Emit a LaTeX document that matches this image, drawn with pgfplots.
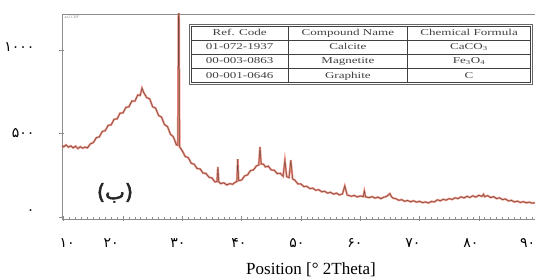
\documentclass[border=0pt]{standalone}
\usepackage{fontspec}
\usepackage{graphicx}
\setmainfont{Liberation Serif}
\newfontfamily\persianfont[Script=Arabic]{DejaVu Sans}
\newfontfamily\persianbold[Script=Arabic,FakeBold=2.5]{DejaVu Sans}
\newfontfamily\tabfont{Liberation Serif}
\newcommand{\st}[1]{\scalebox{1.45}[1]{#1}}
\usepackage{pgfplots}
\usepackage{pgfplotstable}
\pgfplotsset{compat=1.18}
\definecolor{xrdred}{RGB}{232,112,92}
\definecolor{xrddark}{RGB}{110,70,60}
\definecolor{framegray}{RGB}{140,140,140}

\pgfplotstableread{
x y
9.71 428
10.0 420
10.4 432
10.8 418
11.2 426
11.6 414
12.0 424
12.4 410
12.8 421
13.2 412
13.6 419
14.0 414
14.5 438
15.0 446
15.5 475
16.0 480
16.5 512
17.0 517
17.5 549
18.0 552
18.5 585
19.0 588
19.5 622
20.0 624
20.5 657
21.0 660
21.5 695
22.0 694
22.5 731
22.9 728
23.2 772
23.5 745
24.0 715
24.5 708
25.0 660
25.5 652
26.0 608
26.5 598
27.0 553
27.5 542
28.0 496
28.5 480
29.0 432
29.25 430
29.4 1500
29.55 420
30.0 396
30.5 362
31.0 356
31.5 322
32.0 316
32.5 290
33.0 288
33.5 263
34.0 261
34.5 238
35.0 234
35.5 210
35.85 212
36.0 300
36.15 210
36.5 200
37.0 205
37.5 192
38.0 200
38.5 196
39.0 210
39.2 212
39.35 347
39.5 218
40.0 221
40.5 246
41.0 252
41.5 278
42.0 282
42.5 306
42.9 312
43.1 420
43.3 318
43.7 316
44.0 300
44.5 304
45.0 282
45.5 280
46.0 260
46.5 262
47.0 244
47.3 341
47.6 242
48.0 236
48.3 341
48.6 228
49.0 220
49.5 198
50.0 198
50.5 182
51.0 184
51.5 170
52.0 173
52.5 160
53.0 164
53.5 151
54.0 154
54.5 143
55.0 148
55.5 137
56.0 143
56.5 132
57.0 138
57.4 186
57.8 132
58.5 124
59.0 129
59.5 120
60.0 126
60.5 122
60.7 156
60.9 121
61.5 116
62.0 122
62.5 113
63.0 119
63.5 110
64.0 119
64.5 124
65.0 140
65.3 120
65.6 112
66.0 110
66.5 100
67.0 104
67.5 94
68.0 99
68.5 91
69.0 97
69.5 89
70.0 94
70.5 86
71.0 90
71.5 84
72.0 93
72.5 90
73.0 103
73.5 97
74.0 106
74.5 101
75.0 110
75.5 105
76.0 115
76.5 110
77.0 121
77.5 114
78.0 124
78.5 117
79.0 127
79.5 119
80.0 130
80.5 123
80.8 136
81.0 122
81.5 128
82.0 116
82.5 122
83.0 110
83.5 115
84.0 104
84.5 108
85.0 96
85.5 100
86.0 90
86.5 95
87.0 87
87.5 92
88.0 85
88.5 89
89.0 83
89.65 86
}\xrddata

\begin{document}
\begin{tikzpicture}
\begin{axis}[
  at={(0,0)}, anchor=south west,
  scale only axis, width=474pt, height=205pt,
  xmin=9.713, xmax=89.645, ymin=-12, ymax=1216,
  axis line style={framegray, line width=0.9pt},
  xtick={10,20,...,90}, xticklabels={}, minor x tick num=9,
  ytick={0,500,1000}, yticklabels={},
  tick align=center,
  major tick length=5pt, minor tick length=3pt,
  tick style={framegray, line width=0.6pt},
  xtick pos=bottom, ytick pos=left,
  extra x ticks={10.56,17.98,29.27,39.56,49.34,59.12,68.9,78.68,88.25},
  extra x tick labels={۱۰,۲۰,۳۰,۴۰,۵۰,۶۰,۷۰,۸۰,۹۰},
  extra x tick style={major tick length=0pt,
    xticklabel style={font=\persianfont\fontsize{14}{16}\selectfont, anchor=center, yshift=-24pt}},
  extra y ticks={1018,500,30},
  extra y tick labels={۱۰۰۰,۵۰۰,۰},
  extra y tick style={major tick length=0pt,
    yticklabel style={font=\persianfont\fontsize{14}{16}\selectfont, anchor=east, xshift=-24pt}},
  every axis x label/.style={at={(rel axis cs:0,0)}, anchor=center, xshift=249pt, yshift=-51pt},
  xlabel={\fontsize{17}{20}\selectfont Position [\textdegree{} 2Theta]},
]
\addplot[xrdred, line width=2pt, opacity=0.8] table[x=x,y=y] {\xrddata};
\addplot[xrddark, line width=0.5pt] table[x=x,y=y] {\xrddata};

\node[anchor=north west, inner sep=1pt, text=black!45, font=\fontsize{4}{4}\selectfont] at (rel axis cs:0.003,0.995) {az2.CHF};

\node[font=\persianbold\fontsize{21}{24}\selectfont, text=black!85] at (axis cs:18.65,144) {(ب)};

\node[anchor=north west, draw=black!60, line width=0.7pt, inner sep=1.2pt, text=black!75,
      font=\tabfont\fontsize{9}{11}\selectfont, fill=white] at (axis cs:31.2,1156) {%
  \setlength{\tabcolsep}{0pt}\setlength{\arrayrulewidth}{0.7pt}\def\arraystretch{1.22}%
  \begin{tabular}{|c|c|c|}
  \hline
  \makebox[96pt]{\st{Ref. Code}} & \makebox[119pt]{\st{Compound Name}} & \makebox[122pt]{\st{Chemical Formula}}\\
  \hline
  \st{01-072-1937} & \st{Calcite} & \st{CaCO\textsubscript{3}}\\
  \hline
  \st{00-003-0863} & \st{Magnetite} & \st{Fe\textsubscript{3}O\textsubscript{4}}\\
  \hline
  \st{00-001-0646} & \st{Graphite} & \st{C}\\
  \hline
  \end{tabular}};
\end{axis}
\pgfresetboundingbox
\useasboundingbox (-62pt,-61pt) rectangle (473pt,219pt);
\end{tikzpicture}
\end{document}
